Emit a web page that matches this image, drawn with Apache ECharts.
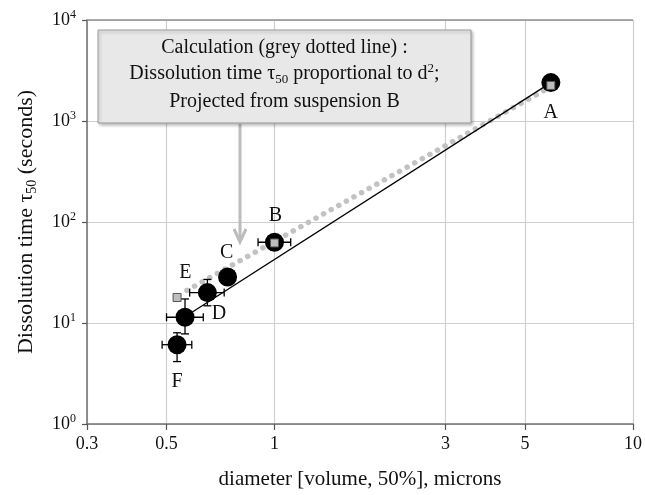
<!DOCTYPE html>
<html>
<head>
<meta charset="utf-8">
<script src="https://cdn.jsdelivr.net/npm/echarts@6/dist/echarts.min.js"></script>
<style>
  html, body { margin: 0; padding: 0; background: #fff; }
  #chart { width: 645px; height: 495px; }
</style>
</head>
<body>
<div id="chart"></div>
<script>
// Axis ticks
const xTickValues = [0.3, 0.5, 1, 3, 5, 10];
const yTickValues = [1, 10, 100, 1000, 10000];
const yTickExponents = ['0', '1', '2', '3', '4'];

// Measured suspensions: median diameter (microns) vs dissolution time tau50 (s)
const suspensions = ['A', 'B', 'C', 'D', 'E', 'F'];
const diameter = [5.9, 1.0, 0.74, 0.563, 0.65, 0.535];
const tau50 = [2400, 63, 28.5, 11.4, 20, 6.1];
const diameterLow = [5.9, 0.90, 0.74, 0.50, 0.58, 0.486];
const diameterHigh = [5.9, 1.11, 0.74, 0.633, 0.724, 0.588];
const tauLow = [2400, 63, 28.5, 7.8, 14.8, 4.15];
const tauHigh = [2400, 63, 28.5, 17.3, 27, 8.0];

// Calculated points (tau50 proportional to d^2, projected from B)
const calcDiameter = [5.9, 1.0, 0.535];
const calcTau = [2250, 62, 17.9];

// Trend line through measured points
const fitDiameter = [0.56, 5.9];
const fitTau = [11.4, 2400];

// Grey dotted projection line
const projDiameter = [0.57, 5.85];
const projTau = [21, 2150];

const FONT = "'Liberation Serif', 'Times New Roman', serif";
const TEXT = '#111';

// Label placement around each marker (pixels)
const labelOffset = {
  A: [0, 30], B: [1, -27], C: [-1, -24], D: [34, -4], E: [-22, -20], F: [0, 37]
};

const zip = (xs, ys) => xs.map((x, i) => [x, ys[i]]);

const chart = echarts.init(document.getElementById('chart'), null, { renderer: 'canvas' });

const option = {
  animation: false,
  backgroundColor: '#fff',
  grid: { left: 87, right: 9, top: 20, bottom: 65, containLabel: false },
  xAxis: {
    type: 'log',
    logBase: 10,
    min: 0.3,
    max: 10,
    name: 'diameter [volume, 50%], microns',
    nameLocation: 'middle',
    nameGap: 45,
    nameTextStyle: { fontFamily: FONT, fontSize: 21, color: TEXT },
    axisLine: { show: true, lineStyle: { color: '#707070', width: 1.5 } },
    axisTick: { show: true, length: 6, inside: false, customValues: xTickValues, lineStyle: { color: '#555', width: 1.2 } },
    axisLabel: {
      customValues: xTickValues,
      margin: 11,
      fontFamily: FONT, fontSize: 18, color: TEXT,
      formatter: v => String(v)
    },
    splitLine: { show: true, lineStyle: { color: '#cfcfcf', width: 1.2 } },
    minorTick: { show: false },
    minorSplitLine: { show: false }
  },
  yAxis: {
    type: 'log',
    logBase: 10,
    min: 1,
    max: 10000,
    name: 'Dissolution time τ{sub|50} (seconds)',
    nameLocation: 'middle',
    nameGap: 48,
    nameTextStyle: {
      fontFamily: FONT, fontSize: 22, color: TEXT,
      rich: { sub: { fontFamily: FONT, fontSize: 14, color: TEXT, padding: [12, 0, 0, 0] } }
    },
    axisLine: { show: true, lineStyle: { color: '#707070', width: 1.5 } },
    axisTick: { show: true, length: 5, inside: false, customValues: yTickValues, lineStyle: { color: '#555', width: 1.2 } },
    axisLabel: {
      customValues: yTickValues,
      margin: 11,
      fontFamily: FONT, fontSize: 18, color: TEXT,
      formatter: v => {
        const i = yTickValues.findIndex(t => Math.abs(t - v) / t < 1e-6);
        return i < 0 ? '' : '10{sup|' + yTickExponents[i] + '}';
      },
      rich: { sup: { fontFamily: FONT, fontSize: 12, color: TEXT, padding: [0, 0, 10, 0] } }
    },
    splitLine: { show: true, lineStyle: { color: '#cfcfcf', width: 1.2 } },
    minorTick: { show: false },
    minorSplitLine: { show: false }
  },
  series: [
    {
      // darker frame line along the top of the plot
      type: 'line',
      data: [],
      silent: true,
      z: 1,
      markLine: {
        silent: true,
        symbol: 'none',
        label: { show: false },
        lineStyle: { color: '#909090', width: 1.6, type: 'solid' },
        data: [{ yAxis: 10000 }]
      }
    },
    {
      name: 'projection',
      type: 'line',
      data: zip(projDiameter, projTau),
      showSymbol: false,
      symbol: 'none',
      z: 2,
      lineStyle: { color: '#c2c2c2', width: 5.5, type: [0.1, 8.6], cap: 'round' }
    },
    {
      name: 'trend',
      type: 'line',
      data: zip(fitDiameter, fitTau),
      showSymbol: false,
      symbol: 'none',
      z: 3,
      lineStyle: { color: '#000', width: 1.3 }
    },
    {
      name: 'error bars',
      type: 'custom',
      z: 4,
      encode: { x: [0, 2, 3], y: [1, 4, 5] },
      data: diameter.map((d, i) => [d, tau50[i], diameterLow[i], diameterHigh[i], tauLow[i], tauHigh[i]]),
      renderItem: (params, api) => {
        const x = api.value(0), y = api.value(1);
        const xl = api.value(2), xh = api.value(3), yl = api.value(4), yh = api.value(5);
        const cap = 4;
        const children = [];
        const style = { stroke: '#000', lineWidth: 1.3 };
        if (xh > xl) {
          const p1 = api.coord([xl, y]), p2 = api.coord([xh, y]);
          children.push({ type: 'line', shape: { x1: p1[0], y1: p1[1], x2: p2[0], y2: p2[1] }, style });
          children.push({ type: 'line', shape: { x1: p1[0], y1: p1[1] - cap, x2: p1[0], y2: p1[1] + cap }, style });
          children.push({ type: 'line', shape: { x1: p2[0], y1: p2[1] - cap, x2: p2[0], y2: p2[1] + cap }, style });
        }
        if (yh > yl) {
          const p1 = api.coord([x, yl]), p2 = api.coord([x, yh]);
          children.push({ type: 'line', shape: { x1: p1[0], y1: p1[1], x2: p2[0], y2: p2[1] }, style });
          children.push({ type: 'line', shape: { x1: p1[0] - cap, y1: p1[1], x2: p1[0] + cap, y2: p1[1] }, style });
          children.push({ type: 'line', shape: { x1: p2[0] - cap, y1: p2[1], x2: p2[0] + cap, y2: p2[1] }, style });
        }
        return { type: 'group', children };
      }
    },
    {
      name: 'measured',
      type: 'scatter',
      z: 5,
      symbol: 'circle',
      symbolSize: 19,
      itemStyle: { color: '#000', opacity: 1 },
      data: suspensions.map((s, i) => ({
        name: s,
        value: [diameter[i], tau50[i]],
        label: {
          show: true,
          position: 'inside',
          offset: labelOffset[s],
          formatter: s,
          fontFamily: FONT,
          fontSize: 20,
          color: TEXT
        }
      }))
    },
    {
      name: 'calculated',
      type: 'scatter',
      z: 6,
      symbol: 'rect',
      symbolSize: 8,
      itemStyle: { color: '#bdbdbd', borderColor: '#555', borderWidth: 1, opacity: 1 },
      data: zip(calcDiameter, calcTau)
    }
  ],
  graphic: [
    {
      type: 'rect',
      z: 100,
      shape: { x: 98, y: 30, width: 373, height: 93 },
      style: {
        fill: '#e8e8e8', stroke: '#9a9a9a', lineWidth: 1,
        shadowBlur: 3, shadowOffsetX: 1.5, shadowOffsetY: 2, shadowColor: 'rgba(0,0,0,0.25)'
      }
    },
    {
      type: 'text', z: 101, x: 284.5, y: 48,
      style: {
        text: 'Calculation (grey dotted line) :',
        font: '20px ' + FONT, fill: TEXT, align: 'center', verticalAlign: 'middle'
      }
    },
    {
      type: 'text', z: 101, x: 284.5, y: 74,
      style: {
        text: 'Dissolution time τ{sub|50} proportional to d{sup|2};',
        font: '20px ' + FONT, fill: TEXT, align: 'center', verticalAlign: 'middle',
        rich: {
          sub: { fontFamily: FONT, fontSize: 13, fill: TEXT, padding: [11, 0, 0, 0] },
          sup: { fontFamily: FONT, fontSize: 13, fill: TEXT, padding: [0, 0, 11, 0] }
        }
      }
    },
    {
      type: 'text', z: 101, x: 284.5, y: 102,
      style: {
        text: 'Projected from suspension B',
        font: '20px ' + FONT, fill: TEXT, align: 'center', verticalAlign: 'middle'
      }
    },
    {
      type: 'line', z: 99,
      shape: { x1: 240, y1: 124, x2: 240, y2: 241 },
      style: { stroke: '#bcbcbc', lineWidth: 3 }
    },
    {
      type: 'polyline', z: 99,
      shape: { points: [[234, 229], [240, 242], [246, 229]] },
      style: { stroke: '#bcbcbc', lineWidth: 3, fill: null }
    }
  ]
};

chart.setOption(option);
</script>
</body>
</html>
